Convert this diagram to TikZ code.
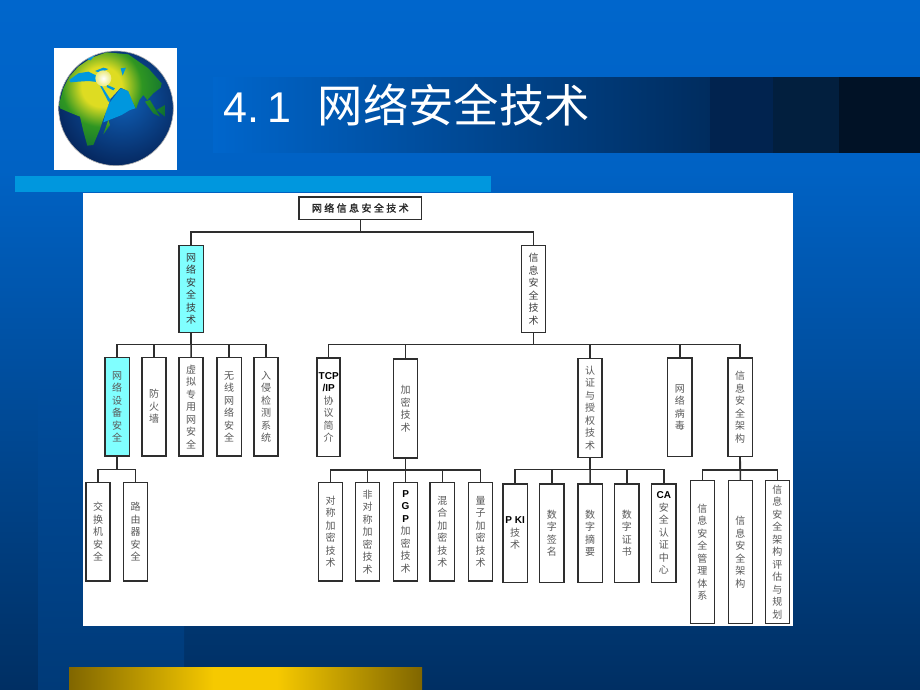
\documentclass[tikz,border=0pt]{standalone}
\usepackage{fontspec}
\newfontfamily\cjkfont{Noto Sans CJK SC}
\newfontfamily\cjkwide[LetterSpace=24,FakeBold=1.2]{Noto Sans CJK SC}
\newfontfamily\latfont{Liberation Sans}
\newcommand{\lat}[1]{{\latfont\bfseries\color{black}#1}}
\definecolor{slidetop}{HTML}{0066CC}
\definecolor{slidemid}{HTML}{0062C4}
\definecolor{slidedark}{HTML}{002F63}
\definecolor{stripetop}{HTML}{004D9D}
\definecolor{stripedark}{HTML}{003A78}
\definecolor{bandend}{HTML}{002C5E}
\definecolor{stepa}{HTML}{01234F}
\definecolor{stepb}{HTML}{021F3E}
\definecolor{stepc}{HTML}{011226}
\definecolor{barblue}{HTML}{0097DE}
\definecolor{goldedge}{HTML}{806600}
\definecolor{goldmid}{HTML}{F6C900}
\definecolor{boxcyan}{HTML}{80FFFF}
\definecolor{linkgray}{HTML}{2E2E2E}
\definecolor{landyellow}{HTML}{DEDC22}
\definecolor{landgreen}{HTML}{2F9622}
\definecolor{landdark}{HTML}{0A6A34}
\definecolor{oceanlight}{HTML}{0F60B8}
\definecolor{oceandark}{HTML}{041E50}
\pgfdeclareradialshading{landfade}{\pgfpoint{0bp}{0bp}}{color(0bp)=(landyellow); color(7bp)=(landyellow); color(14bp)=(landgreen); color(25bp)=(landdark); color(50bp)=(landdark)}
\tikzset{
  vbox/.style={draw=linkgray,line width=1.5pt,fill=white,inner sep=0pt,outer sep=0pt,
    minimum width=24.2pt,align=center,text=black!65,
    font=\cjkfont\fontsize{10}{12.5}\selectfont},
  leafa/.style={vbox,minimum height=98.8pt},
  leafb/.style={vbox,minimum height=142.8pt},
  branch/.style={vbox,minimum height=87pt,text=black!75},
  hilite/.style={fill=boxcyan},
  link/.style={draw=linkgray,line width=1.5pt}
}
\begin{document}
\begin{tikzpicture}[x=1pt,y=-1pt]
\useasboundingbox (0,0) rectangle (920,690);
% slide background
\shade[top color=slidetop,bottom color=slidemid] (0,0) rectangle (920,171);
\shade[top color=slidemid,bottom color=slidedark] (0,170) rectangle (920,690);
\shade[top color=stripetop,bottom color=stripedark] (38,380) rectangle (184,690);
% title band
\shade[left color=slidetop,right color=bandend] (213,77.4) rectangle (711,152.6);
\fill[stepa] (710,77) rectangle (774,153);
\fill[stepb] (773,77) rectangle (840,153);
\fill[stepc] (839,77) rectangle (920,153);
\fill[barblue] (15,176) rectangle (491,192);
\shade[left color=goldedge,right color=goldmid] (69,667) rectangle (214,690);
\fill[goldmid] (213,667) rectangle (278,690);
\shade[left color=goldmid,right color=goldedge] (277,667) rectangle (422,690);
\fill[white] (83,193) rectangle (793,626);
% globe
\fill[white] (54,48) rectangle (177,170);
\begin{scope}[shift={(50,45)},x=0.3333pt,y=-0.3333pt]
\begin{scope}
\clip (198,190) circle (172);
\shade[inner color=oceanlight,outer color=oceandark] (215,165) circle (235);
\fill[barblue] (180,172) -- (212,130) -- (236,138) -- (256,190) -- (240,195) -- (215,210) -- (160,232) -- (170,190) -- cycle;
\begin{scope}
\clip (28,175) -- (40,130) -- (58,95) -- (85,65) -- (125,38) -- (170,22) -- (235,28) -- (295,70) -- (335,115) -- (332,128) -- (310,145) -- (292,165) -- (280,150) -- (268,165) -- (258,192) -- (248,170) -- (235,138) -- (212,128) -- (178,165) -- (178,172) -- (160,222) -- (150,252) -- (130,300) -- (112,302) -- (100,258) -- (90,215) -- (60,203) -- (30,190) -- cycle
  (160,268) -- (175,225) -- (180,240) -- cycle
  (285,170) -- (300,165) -- (330,215) -- (310,205) -- cycle
  (320,195) -- (345,180) -- (345,215) -- cycle
  (340,275) -- (345,245) -- (368,232) -- (362,265) -- cycle
  (150,358) -- (250,358) -- (200,368) -- cycle;
\shade[shading=landfade] (155,125) circle (215);
\end{scope}
% inland seas
\fill[barblue] (58,105) -- (85,85) -- (115,80) -- (140,92) -- (150,112) -- (115,108) -- (85,110) -- (62,112) -- cycle;
\fill[barblue] (135,78) -- (160,68) -- (175,72) -- (150,84) -- cycle;
\fill[barblue] (148,118) -- (155,122) -- (182,165) -- (175,170) -- cycle;
\fill[barblue] (172,120) -- (195,130) -- (190,136) -- (170,126) -- cycle;
\fill[barblue] (212,70) -- (228,68) -- (218,92) -- cycle;
\fill[barblue] (110,42) -- (135,30) -- (122,46) -- cycle;
\shade[inner color=white,outer color=landyellow!60!white] (160,100) circle (24);
\end{scope}
\draw[gray!60,line width=0.6pt] (198,190) circle (172);
\end{scope}
% title
\draw (223,105) node[anchor=west,inner sep=0pt,text=white,font=\cjkfont\fontsize{45.3}{50}\selectfont] (title) {{\latfont\fontsize{43}{50}\selectfont 4.\hspace{8.5pt}1}\hspace{26.5pt}网络安全技术};
% root
\draw (360.3,208) node[draw=linkgray,line width=1.5pt,fill=white,inner sep=0pt,outer sep=0pt,minimum width=122.5pt,minimum height=22.5pt,text=black!85,font=\cjkwide\fontsize{10}{12}\selectfont] (root) {网络信息安全技术};
% first level
\draw (191.2,289) node[branch,hilite,text=black!78] (netsec) {网\\络\\安\\全\\技\\术};
\draw (533.5,289) node[branch] (infosec) {信\\息\\安\\全\\技\\术};
% network security
\draw (117.2,406.7) node[leafa,hilite] (device) {网\\络\\设\\备\\安\\全};
\draw (154,406.7) node[leafa] (firewall) {防\\火\\墙};
\draw (191,406.7) node[leafa] (vpn) {虚\\拟\\专\\用\\网\\安\\全};
\draw (229.2,406.7) node[leafa] (wireless) {无\\线\\网\\络\\安\\全};
\draw (266,406.7) node[leafa] (ids) {入\\侵\\检\\测\\系\\统};
\draw (98,531.8) node[leafa] (switch) {交\\换\\机\\安\\全};
\draw (135.6,531.8) node[leafa] (router) {路\\由\\器\\安\\全};
% information security
\draw (328.7,407.3) node[leafa,minimum width=23pt] (tcpip) {\lat{TCP}\\\lat{/IP}\\协\\议\\简\\介};
\draw (405.6,408.6) node[leafa] (crypto) {加\\密\\技\\术};
\draw (590,408) node[leafa] (auth) {认\\证\\与\\授\\权\\技\\术};
\draw (679.8,407.3) node[leafa] (virus) {网\\络\\病\\毒};
\draw (740.2,407.3) node[leafa] (arch) {信\\息\\安\\全\\架\\构};
% crypto children
\draw (330.6,531.8) node[leafa] (sym) {对\\称\\加\\密\\技\\术};
\draw (367.5,531.8) node[leafa] (asym) {非\\对\\称\\加\\密\\技\\术};
\draw (405.6,531.8) node[leafa] (pgp) {\lat{P}\\\lat{G}\\\lat{P}\\加\\密\\技\\术};
\draw (442.3,531.8) node[leafa] (hybrid) {混\\合\\加\\密\\技\\术};
\draw (480.6,531.8) node[leafa] (quantum) {量\\子\\加\\密\\技\\术};
% auth children
\draw (515.2,533.3) node[leafa] (pki) {\lat{P KI}\\技\\术};
\draw (551.8,533.3) node[leafa] (sign) {数\\字\\签\\名};
\draw (590.2,533.3) node[leafa] (digest) {数\\字\\摘\\要};
\draw (626.8,533.3) node[leafa] (cert) {数\\字\\证\\书};
\draw (663.8,533.3) node[leafa] (ca) {\lat{CA}\\安\\全\\认\\证\\中\\心};
% arch children
\draw (702.4,552) node[leafb] (isms) {信\\息\\安\\全\\管\\理\\体\\系};
\draw (740.4,552) node[leafb] (archb) {信\\息\\安\\全\\架\\构};
\draw (777.4,552) node[leafb] (assess) {信\\息\\安\\全\\架\\构\\评\\估\\与\\规\\划};
% connectors
\draw[link] (root.south) -- ++(0,12.7) -| (netsec.north);
\draw[link] (root.south) -- ++(0,12.7) -| (infosec.north);
\draw[link] (netsec.south) -- ++(0,12) -| (device.north);
\draw[link] (netsec.south) -- ++(0,12) -| (firewall.north);
\draw[link] (netsec.south) -- (vpn.north);
\draw[link] (netsec.south) -- ++(0,12) -| (wireless.north);
\draw[link] (netsec.south) -- ++(0,12) -| (ids.north);
\draw[link] (device.south) -- ++(0,13.3) -| (switch.north);
\draw[link] (device.south) -- ++(0,13.3) -| (router.north);
\draw[link] (infosec.south) -- ++(0,12) -| (tcpip.north);
\draw[link] (infosec.south) -- ++(0,12) -| (crypto.north);
\draw[link] (infosec.south) -- ++(0,12) -| (auth.north);
\draw[link] (infosec.south) -- ++(0,12) -| (virus.north);
\draw[link] (infosec.south) -- ++(0,12) -| (arch.north);
\draw[link] (crypto.south) -- ++(0,12) -| (sym.north);
\draw[link] (crypto.south) -- ++(0,12) -| (asym.north);
\draw[link] (crypto.south) -- (pgp.north);
\draw[link] (crypto.south) -- ++(0,12) -| (hybrid.north);
\draw[link] (crypto.south) -- ++(0,12) -| (quantum.north);
\draw[link] (auth.south) -- ++(0,12) -| (pki.north);
\draw[link] (auth.south) -- ++(0,12) -| (sign.north);
\draw[link] (auth.south) -- (digest.north);
\draw[link] (auth.south) -- ++(0,12) -| (cert.north);
\draw[link] (auth.south) -- ++(0,12) -| (ca.north);
\draw[link] (arch.south) -- ++(0,13.3) -| (isms.north);
\draw[link] (arch.south) -- (archb.north);
\draw[link] (arch.south) -- ++(0,13.3) -| (assess.north);
\end{tikzpicture}
\end{document}
